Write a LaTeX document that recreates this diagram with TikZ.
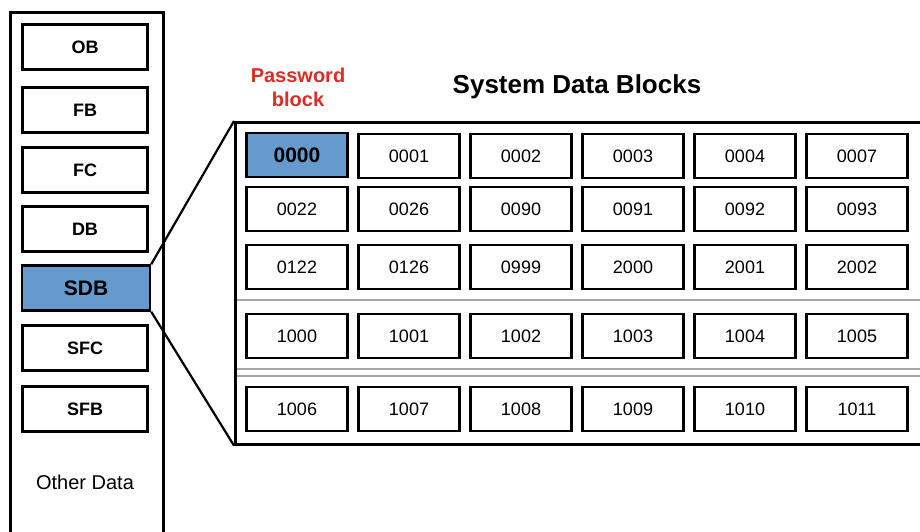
\documentclass[tikz,border=0pt]{standalone}
\usepackage{fontspec}
\setmainfont{Liberation Sans}
\usepackage{tikz}
\usetikzlibrary{positioning}
\definecolor{blockblue}{HTML}{6699CC}
\definecolor{pwred}{HTML}{DD2C22}

\tikzset{
  blk/.style={draw, line width=2.4pt, minimum width=125pt, minimum height=45pt,
    font=\fontsize{18}{20}\selectfont\bfseries},
  cell/.style={draw, line width=2.4pt, minimum width=101pt, minimum height=44pt,
    font=\fontsize{18}{20}\selectfont},
  sep/.style={black!35, line width=1.4pt}
}

\begin{document}
\begin{tikzpicture}[x=1pt, y=-1pt]
    \clip (0,0) rectangle (920,532);
    \fill[white] (0,0) rectangle (920,532);

    % Row separators
    \draw[sep] (236,300) -- (920,300);
    \draw[sep] (236,369) -- (920,369);
    \draw[sep] (236,376) -- (920,376);

    % Define frames
    \node[draw, line width=2.6pt, minimum width=153pt, minimum height=540pt, anchor=north west] (panel) at (9,11) {};
    \node[draw, line width=2.6pt, minimum width=700pt, minimum height=322pt, anchor=north west] (sysblk) at (234,121) {};

    % Define block nodes
    \node[blk] (OB) at (85,47) {OB};
    \node[blk] (FB) at (85,110) {FB};
    \node[blk] (FC) at (85,170) {FC};
    \node[blk] (DB) at (85,229) {DB};
    \node[blk, fill=blockblue, minimum width=128pt, font=\fontsize{21}{24}\selectfont\bfseries] (SDB) at (86,288) {SDB};
    \node[blk] (SFC) at (85,348) {SFC};
    \node[blk] (SFB) at (85,409) {SFB};
    \node[font=\fontsize{20}{22}\selectfont] (other) at (85,482) {Other Data};

    % Titles
    \node[font=\fontsize{26}{30}\selectfont\bfseries] (title) at (577,87) {System Data Blocks};
    \node[font=\fontsize{20}{24}\selectfont\bfseries, text=pwred, align=center] (pw) at (298,87) {Password\\block};

    % Data block cells
    \node[cell, fill=blockblue, font=\fontsize{21}{24}\selectfont\bfseries] (c11) at (297,155) {0000};
    \foreach \r/\y/\nums in {1/156/{-,0001,0002,0003,0004,0007},
                             2/209/{0022,0026,0090,0091,0092,0093},
                             3/267/{0122,0126,0999,2000,2001,2002},
                             4/336/{1000,1001,1002,1003,1004,1005},
                             5/409/{1006,1007,1008,1009,1010,1011}} {
        \foreach \n [count=\c] in \nums {
            \ifnum\r\c=11\else
                \node[cell] (c\r\c) at ({297+112*(\c-1)},\y) {\n};
            \fi
        }
    }

    % Draw zoom lines
    \draw[line width=2.2pt] (SDB.north east) -- (sysblk.north west);
    \draw[line width=2.2pt] (SDB.south east) -- (sysblk.south west);
\end{tikzpicture}
\end{document}
